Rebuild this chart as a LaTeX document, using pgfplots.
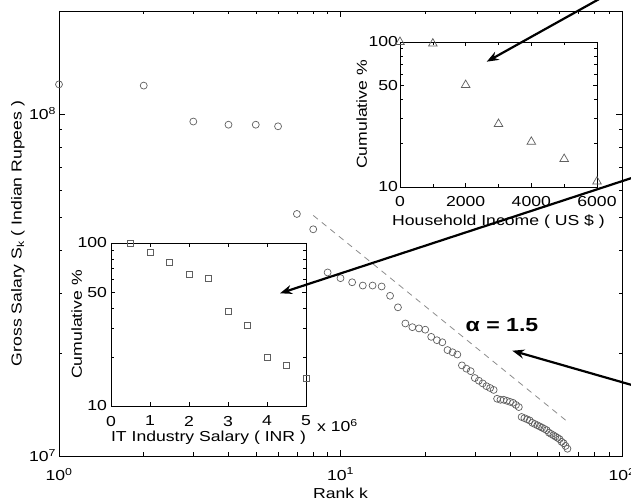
\documentclass[border=0pt]{standalone}
\usepackage{pgfplots}
\pgfplotsset{compat=1.18}
\usepackage{fontspec}
\setmainfont{Liberation Sans}[FakeStretch=1.22]
\usetikzlibrary{arrows.meta}
\definecolor{mk}{RGB}{95,95,95}
\definecolor{dl}{RGB}{140,140,140}
\begin{document}
\fontsize{14.5}{17}\selectfont
\begin{tikzpicture}
\useasboundingbox (0,0) rectangle (631bp,501bp);
\begin{axis}[at={(59bp,45bp)}, anchor=south west, scale only axis,
  width=563bp, height=445bp, xmode=log, ymode=log,
  xmin=1, xmax=100, ymin=1e7, ymax=2e8,
  xtick={1,10,100}, xticklabels={10\textsuperscript{0},10\textsuperscript{1},10\textsuperscript{2}},
  ytick={1e7,1e8}, yticklabels={10\textsuperscript{7},10\textsuperscript{8}},
  tick align=inside, major tick length=6bp, minor tick length=3.5bp,
  axis line style={line width=0.8bp},
  every tick/.style={black, line width=0.5bp},
  xticklabel style={yshift=-7pt}, yticklabel style={xshift=2pt},
  xlabel={Rank k}, ylabel={Gross Salary S\textsubscript{k} ( Indian Rupees )},
  xlabel style={at={(axis description cs:0.5,-0.083)}, anchor=center},
  ylabel style={at={(axis description cs:-0.073,0.5)}, anchor=center},
  clip=false]
\addplot[only marks, mark=o, mark size=3.5pt, mark options={draw=mk, line width=0.7bp}] coordinates {
(1,1.22e8) (2,1.21e8) (3,9.5e7) (4,9.3e7) (5,9.3e7) (6,9.2e7) (7,5.1e7) (8,4.6e7)
(9,3.44e7) (10,3.31e7) (11,3.22e7) (12,3.15e7) (13,3.15e7) (14,3.13e7) (15,2.94e7) (16,2.72e7)
(17,2.44e7) (18,2.38e7) (19,2.36e7) (20,2.34e7) (21,2.23e7) (22,2.18e7) (23,2.15e7) (24,2.04e7)
(25,2.01e7) (26,1.98e7) (27,1.84e7) (28,1.80e7) (29,1.77e7) (30,1.69e7) (31,1.66e7) (32,1.63e7)
(33,1.60e7) (34,1.58e7) (35,1.56e7) (36,1.47e7) (37,1.46e7) (38,1.46e7) (39,1.45e7) (40,1.44e7)
(41,1.43e7) (42,1.41e7) (43,1.39e7) (44,1.30e7) (45,1.29e7) (46,1.28e7) (47,1.27e7) (48,1.25e7)
(49,1.24e7) (50,1.23e7) (51,1.22e7) (52,1.21e7) (53,1.20e7) (54,1.19e7) (55,1.17e7) (56,1.16e7)
(57,1.15e7) (58,1.14e7) (59,1.13e7) (60,1.12e7) (61,1.10e7) (62,1.09e7) (63,1.07e7) (64,1.05e7)
};
\addplot[dl, line width=0.8bp, dash pattern=on 6bp off 5bp] coordinates {(8,5.05e7) (64,1.26e7)};
\end{axis}

\begin{axis}[at={(400bp,314bp)}, anchor=south west, scale only axis,
  width=197bp, height=145bp, ymode=log,
  xmin=0, xmax=6000, ymin=10, ymax=100,
  xtick={0,2000,4000,6000}, xticklabels={0,2000,4000,6000},
  minor xtick={1000,3000,5000},
  ytick={10,50,100}, yticklabels={10,50,100}, minor ytick={20,30,40,60,70,80,90},
  tick align=inside, major tick length=4bp, minor tick length=3bp,
  axis line style={line width=0.7bp},
  every tick/.style={black, line width=0.4bp},
  axis background/.style={fill=white},
  xticklabel style={yshift=-4pt}, yticklabel style={xshift=3pt},
  xlabel={Household Income ( US \$ )}, ylabel={Cumulative \%},
  xlabel style={at={(axis description cs:0.5,-0.237)}, anchor=center},
  ylabel style={at={(axis description cs:-0.194,0.5)}, anchor=center},
  clip=false]
\addplot[only marks, mark=triangle, mark size=5pt, mark options={draw=mk, line width=0.7bp}] coordinates {
(0,100) (1000,97.5) (2000,50.5) (3000,27.2) (4000,20.5) (5000,15.6) (6000,10.9)
};
\end{axis}

\begin{axis}[at={(111bp,95bp)}, anchor=south west, scale only axis,
  width=195bp, height=163bp, ymode=log,
  xmin=0, xmax=5, ymin=10, ymax=100,
  xtick={0,1,2,3,4,5}, xticklabels={0,1,2,3,4,5},
  ytick={10,50,100}, yticklabels={10,50,100}, minor ytick={20,30,40,60,70,80,90},
  tick align=inside, major tick length=4bp, minor tick length=3bp,
  axis line style={line width=0.7bp},
  every tick/.style={black, line width=0.4bp},
  axis background/.style={fill=white},
  xticklabel style={yshift=-5pt}, yticklabel style={xshift=1pt},
  xlabel={IT Industry Salary ( INR )}, ylabel={Cumulative \%},
  xlabel style={at={(axis description cs:0.5,-0.196)}, anchor=center},
  ylabel style={at={(axis description cs:-0.176,0.5)}, anchor=center},
  clip=false]
\addplot[only marks, mark=square, mark size=3pt, mark options={draw=mk, line width=0.7bp}] coordinates {
(0.5,100) (1,88) (1.5,76) (2,64) (2.5,60.7) (3,38.3) (3.5,31.4) (4,19.9) (4.5,17.8) (5,14.7)
};
\end{axis}

\node at (337.5bp,75.5bp) {x 10\textsuperscript{6}};
\node[font=\bfseries\fontsize{19}{22}\selectfont] at (502bp,176bp) {α = 1.5};

\draw[line width=2.2bp, -{Stealth[length=12bp,width=9bp]}] (601bp,503bp) -- (486.7bp,439.3bp);
\draw[line width=2.2bp, -{Stealth[length=12bp,width=9bp]}] (636bp,324.4bp) -- (280bp,207.7bp);
\draw[line width=2.2bp, -{Stealth[length=12bp,width=9bp]}] (636bp,114.8bp) -- (512.3bp,150.3bp);
\end{tikzpicture}
\end{document}
